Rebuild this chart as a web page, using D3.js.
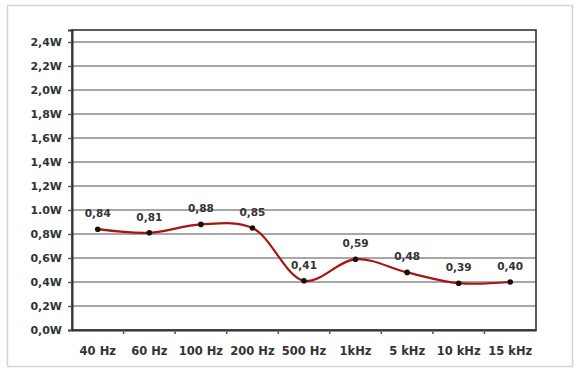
<!DOCTYPE html>
<html><head><meta charset="utf-8">
<script src="https://cdn.jsdelivr.net/npm/d3@7"></script>
<style>body{margin:0;background:#fff}svg{display:block}</style>
</head><body>
<script>
const categories = ["40 Hz","60 Hz","100 Hz","200 Hz","500 Hz","1kHz","5 kHz","10 kHz","15 kHz"];
const values = [0.84,0.81,0.88,0.85,0.41,0.59,0.48,0.39,0.40];
const valueLabels = ["0,84","0,81","0,88","0,85","0,41","0,59","0,48","0,39","0,40"];
const yTicks = [0,0.2,0.4,0.6,0.8,1.0,1.2,1.4,1.6,1.8,2.0,2.2,2.4];
const yTickLabels = ["0,0W","0,2W","0,4W","0,6W","0,8W","1.0W","1,2W","1,4W","1,6W","1,8W","2,0W","2,2W","2,4W"];

const W=577,H=371;
const m={left:72,top:30,right:536,bottom:330};
const svg=d3.select("body").append("svg").attr("width",W).attr("height",H);
svg.append("rect").attr("x",7.5).attr("y",5.5).attr("width",565).attr("height",361)
  .attr("fill","#fff").attr("stroke","#d4d4d4").attr("stroke-width",1.5);

const x=d3.scaleBand().domain(categories).range([m.left,m.right]);
const y=d3.scaleLinear().domain([0,2.5]).range([m.bottom,m.top]);
const font="DejaVu Sans, Verdana, sans-serif";

// gridlines
svg.append("g").selectAll("line").data(yTicks.filter(d=>d>0)).join("line")
  .attr("x1",m.left).attr("x2",m.right).attr("y1",d=>y(d)).attr("y2",d=>y(d))
  .attr("stroke","#8a8a8a").attr("stroke-width",1.6);

// frame
svg.append("rect").attr("x",m.left).attr("y",m.top).attr("width",m.right-m.left).attr("height",m.bottom-m.top)
  .attr("fill","none").attr("stroke","#333").attr("stroke-width",1.6);

// y axis
const yAxis=d3.axisLeft(y).tickValues(yTicks).tickSize(4).tickFormat((d,i)=>yTickLabels[i]);
const gy=svg.append("g").attr("transform",`translate(${m.left},0)`).call(yAxis);
gy.select(".domain").attr("stroke","#333").attr("stroke-width",2);
gy.selectAll(".tick line").attr("stroke","#555").attr("stroke-width",1.5);
gy.selectAll("text").attr("font-family",font).attr("font-weight","bold").attr("font-size",11).attr("fill","#333").attr("dx",-3);

// x axis
const xAxis=d3.axisBottom(x).tickSize(0).tickPadding(0);
const gx=svg.append("g").attr("transform",`translate(0,${m.bottom})`).call(xAxis);
gx.select(".domain").attr("stroke","#333").attr("stroke-width",2);
gx.selectAll("text").attr("font-family",font).attr("font-weight","bold").attr("font-size",11.5).attr("fill","#333").attr("dy",0).attr("y",25);
// band separators
svg.append("g").selectAll("line").data(categories.slice(1)).join("line")
  .attr("x1",d=>x(d)).attr("x2",d=>x(d)).attr("y1",m.bottom).attr("y2",m.bottom+4)
  .attr("stroke","#555").attr("stroke-width",1.5);

const cx=(d,i)=>x(categories[i])+x.bandwidth()/2;
const pts=values.map((v,i)=>[cx(v,i),y(v)]);
svg.append("path").datum(pts).attr("d",d3.line().curve(d3.curveCatmullRom.alpha(0.5)))
  .attr("fill","none").attr("stroke","#a8140f").attr("stroke-width",2.2);
svg.append("g").selectAll("circle").data(pts).join("circle")
  .attr("cx",d=>d[0]).attr("cy",d=>d[1]).attr("r",2.8).attr("fill","#111");
svg.append("g").selectAll("text").data(values).join("text")
  .attr("x",(d,i)=>cx(d,i)).attr("y",d=>y(d)-12).attr("text-anchor","middle")
  .attr("font-family",font).attr("font-weight","bold").attr("font-size",10.5).attr("fill","#333")
  .text((d,i)=>valueLabels[i]);
</script>
</body></html>
